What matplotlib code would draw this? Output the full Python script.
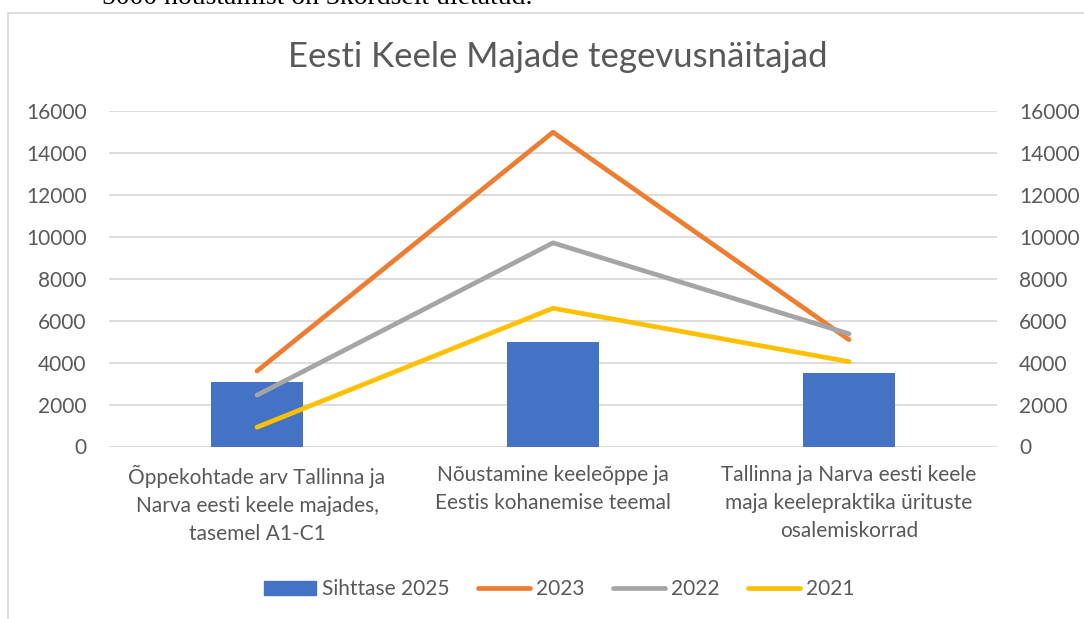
import matplotlib
matplotlib.use("Agg")
import matplotlib.pyplot as plt
from matplotlib.patches import Rectangle
from matplotlib.lines import Line2D

plt.rcParams["font.family"] = ["Lato", "DejaVu Sans"]

# andmed
categories = [
    "Õppekohtade arv Tallinna ja\nNarva eesti keele majades,\ntasemel A1-C1",
    "Nõustamine keeleõppe ja\nEestis kohanemise teemal",
    "Tallinna ja Narva eesti keele\nmaja keelepraktika ürituste\nosalemiskorrad",
]
target_2025 = [3070, 5000, 3500]
values_2023 = [3600, 15000, 5100]
values_2022 = [2450, 9720, 5380]
values_2021 = [920, 6600, 4050]
y_ticks = list(range(0, 16001, 2000))

text_col = "#595959"
grid_col = "#d9d9d9"

fig = plt.figure(figsize=(10.84, 6.19), dpi=100)

# katkenud tekstirida lehe ülaservas
fig.text(102 / 1084, 1 - 4 / 619, "5000 nõustamist on 3kordselt ületatud.",
         family=["Liberation Serif", "DejaVu Serif"], fontsize=20, color="black",
         ha="left", va="baseline")

# diagrammi raam
fig.patches.append(Rectangle((8 / 1084, -0.1), 1.2, 1.1 - 13 / 619,
                             transform=fig.transFigure, fill=False,
                             edgecolor=grid_col, linewidth=1.3))

ax = fig.add_axes([109 / 1084, 1 - 446.5 / 619, 888 / 1084, 335.2 / 619])
x = list(range(len(categories)))

ax.bar(x, target_2025, width=0.314, color="#4472c4", zorder=2)
ax.plot(x, values_2023, color="#ed7d31", lw=3.4, solid_capstyle="round", zorder=3)
ax.plot(x, values_2022, color="#a5a5a5", lw=3.4, solid_capstyle="round", zorder=3)
ax.plot(x, values_2021, color="#ffc000", lw=3.4, solid_capstyle="round", zorder=3)

ax.set_xlim(-0.5, 2.5)
ax.set_ylim(0, 16000)
ax.set_yticks(y_ticks)
ax.set_xticks(x)
ax.set_xticklabels(categories, fontsize=15, color=text_col, linespacing=1.5)
ax.tick_params(axis="x", length=0, pad=13)
ax.tick_params(axis="y", length=0, pad=16, labelsize=15, labelcolor=text_col)
ax.grid(axis="y", color=grid_col, lw=1.3, zorder=0)
ax.set_axisbelow(True)
for s in ax.spines.values():
    s.set_visible(False)

ax2 = ax.twinx()
ax2.set_ylim(0, 16000)
ax2.set_yticks(y_ticks)
ax2.tick_params(axis="y", length=0, pad=16, labelsize=15, labelcolor=text_col)
for s in ax2.spines.values():
    s.set_visible(False)

fig.text(558 / 1084, 1 - 57 / 619, "Eesti Keele Majade tegevusnäitajad",
         fontsize=25, color=text_col, ha="center", va="center")

handles = [
    Rectangle((0, 0), 1, 1, color="#4472c4"),
    Line2D([], [], color="#ed7d31", lw=3.4, solid_capstyle="round"),
    Line2D([], [], color="#a5a5a5", lw=3.4, solid_capstyle="round"),
    Line2D([], [], color="#ffc000", lw=3.4, solid_capstyle="round"),
]
fig.legend(handles, ["Sihttase 2025", "2023", "2022", "2021"], ncol=4,
           loc="center", bbox_to_anchor=(559 / 1084, 1 - 589 / 619),
           frameon=False, fontsize=15, labelcolor=text_col,
           handlelength=2.5, handleheight=0.65, handletextpad=0.3,
           columnspacing=1.35)

fig.savefig("out.png", dpi=100)
